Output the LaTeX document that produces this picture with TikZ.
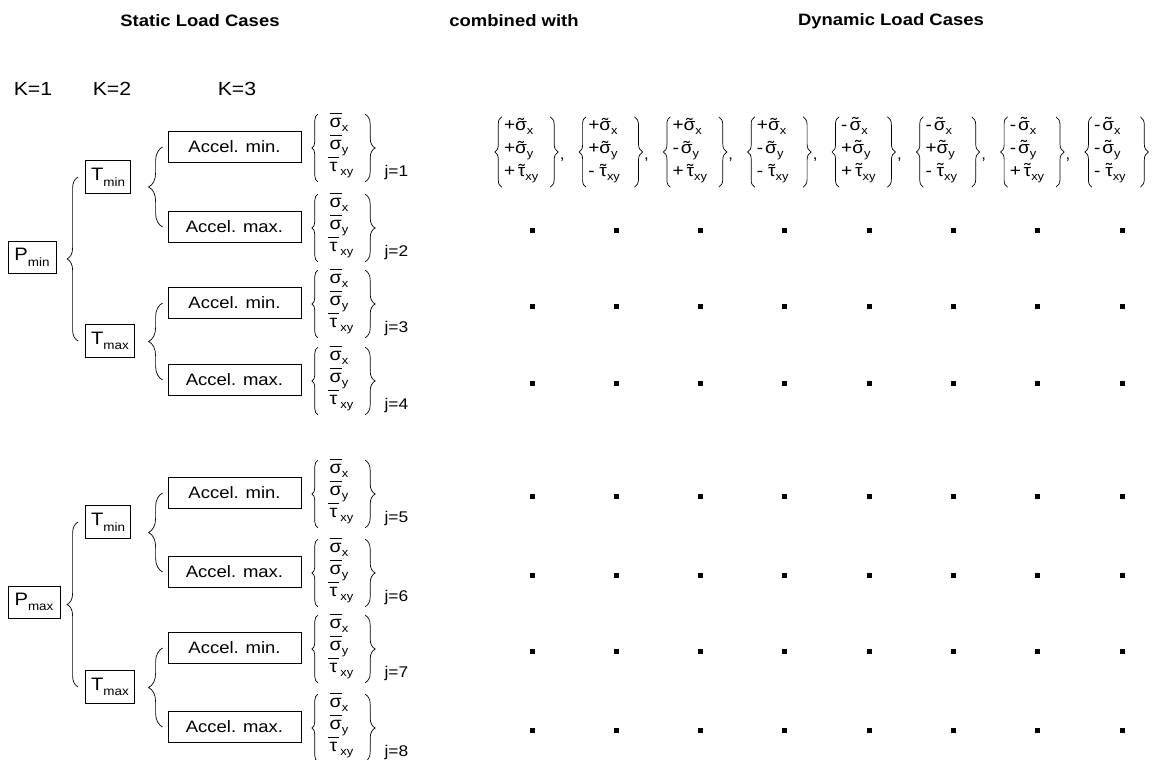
\documentclass[tikz,border=0pt]{standalone}
\usepackage{fontspec}
\setmainfont{Liberation Sans}[FakeStretch=1.12]
\usetikzlibrary{decorations.pathreplacing,calc}
\newcommand{\BarOn}[1]{\ooalign{#1\cr\hidewidth\raisebox{0.76em}{\rule{0.66em}{0.65pt}}\hidewidth\cr}}
\newcommand{\TilOn}[1]{\ooalign{#1\cr\hidewidth\raisebox{0.02em}{˜}\hidewidth\cr}}
\newcommand{\SigBar}{\BarOn{σ}}
\newcommand{\TauBar}{\BarOn{τ}}
\newcommand{\SigTil}{\TilOn{σ}}
\newcommand{\TauTil}{\TilOn{τ}}
\newcommand{\lsub}[1]{\raisebox{-0.5ex}{\fontsize{11.5}{12}\selectfont #1}}
\newcommand{\bsub}[1]{\raisebox{-0.6ex}{\fontsize{12}{12}\selectfont #1}}
\newcommand{\Pl}{+}
\newcommand{\Mi}{-\hspace{2pt}}
\begin{document}
\begin{tikzpicture}[x=1pt,y=-1pt,
 title/.style={font=\fontsize{16.5}{18}\selectfont\bfseries},
 klab/.style={font=\fontsize{19}{20}\selectfont},
 pbox/.style={draw, line width=0.8pt, minimum height=32, inner xsep=3, font=\fontsize{18}{20}\selectfont},
 abox/.style={draw, line width=0.8pt, minimum width=133, minimum height=31, font=\fontsize{16.5}{18}\selectfont},
 svec/.style={minimum width=47, minimum height=67, inner sep=0, align=left, font=\fontsize{17.5}{22}\selectfont},
 dvec/.style={text width=44, inner xsep=2, inner ysep=0, minimum height=70, align=left, font=\fontsize{17}{23}\selectfont},
 jlab/.style={font=\fontsize{15.5}{17}\selectfont, anchor=west},
 dot/.style={fill=black, inner sep=0, minimum size=5},
 brc/.style={decorate, decoration={brace, amplitude=#1}, line width=0.7pt},
 brc/.default=7
]
\useasboundingbox (0,0) rectangle (1162,760);
% titles
\node[title] (t1) at (200,21) {Static Load Cases};
\node[title] (t2) at (514,21) {combined with};
\node[title] (t3) at (891,21) {Dynamic Load Cases};
% K labels
\node[klab] (k1) at (33,89) {K=1};
\node[klab] (k2) at (112,89) {K=2};
\node[klab] (k3) at (237,89) {K=3};
% P and T boxes
\node[pbox, minimum width=48] (Pmin) at (32,257) {P\bsub{min}};
\node[pbox, minimum width=52] (Pmax) at (34,602) {P\bsub{max}};
\node[pbox, minimum width=45, minimum height=33] (Tmin1) at (108,177) {T\bsub{min}};
\node[pbox, minimum width=49, minimum height=33] (Tmax1) at (110,341) {T\bsub{max}};
\node[pbox, minimum width=45, minimum height=33] (Tmin2) at (108,522) {T\bsub{min}};
\node[pbox, minimum width=49, minimum height=33] (Tmax2) at (110,687) {T\bsub{max}};
% accel rows with static vectors
\foreach \j/\y/\t in {1/147/min, 2/227/max, 3/303/min, 4/380/max, 5/493/min, 6/572/max, 7/648/min, 8/727/max} {
  \node[abox] (A\j) at (234.5,\y) {Accel. \t.};
  \node[svec] (S\j) at (341.5,\y+1) {\SigBar\lsub{x}\\\SigBar\lsub{y}\\\TauBar\,\lsub{xy}};
  \draw[brc=6] (S\j.south west) -- (S\j.north west);
  \draw[brc=10] (S\j.north east) -- (S\j.south east);
  \node[jlab] (J\j) at (381,\y+25) {j=\j};
}
% tree braces
\draw[brc=11] ([xshift=-7pt]Tmax1.west) -- ([xshift=-7pt]Tmin1.west);
\draw[brc=11] ([xshift=-7pt]Tmax2.west) -- ([xshift=-7pt]Tmin2.west);
\draw[brc=14] ([xshift=-5pt]A2.west) -- ([xshift=-5pt]A1.west);
\draw[brc=14] ([xshift=-5pt]A4.west) -- ([xshift=-5pt]A3.west);
\draw[brc=14] ([xshift=-5pt]A6.west) -- ([xshift=-5pt]A5.west);
\draw[brc=14] ([xshift=-5pt]A8.west) -- ([xshift=-5pt]A7.west);
% dynamic vectors
\foreach \i/\a/\b/\c in {1/\Pl/\Pl/\Pl, 2/\Pl/\Pl/\Mi, 3/\Pl/\Mi/\Pl, 4/\Pl/\Mi/\Mi, 5/\Mi/\Pl/\Pl, 6/\Mi/\Pl/\Mi, 7/\Mi/\Mi/\Pl, 8/\Mi/\Mi/\Mi} {
  \pgfmathsetmacro\L{495+84.3*(\i-1)}
  \node[dvec] (D\i) at (\L+31,152) {\a\SigTil\lsub{x}\\\b\SigTil\lsub{y}\\\c\,\TauTil\lsub{xy}};
  \draw[brc=7] (D\i.south west) -- (D\i.north west);
  \draw[brc=8] (D\i.north east) -- (D\i.south east);
  \ifnum\i<8 \node[font=\fontsize{15}{16}\selectfont, inner sep=0] (c\i) at ([xshift=12pt,yshift=-8pt]D\i.east) {,}; \fi
  \foreach \r/\yy in {2/230, 3/306, 4/383, 5/496, 6/575, 7/651, 8/730} {
    \node[dot] (d\i-\r) at (\L+37,\yy) {};
  }
}
\end{tikzpicture}
\end{document}
